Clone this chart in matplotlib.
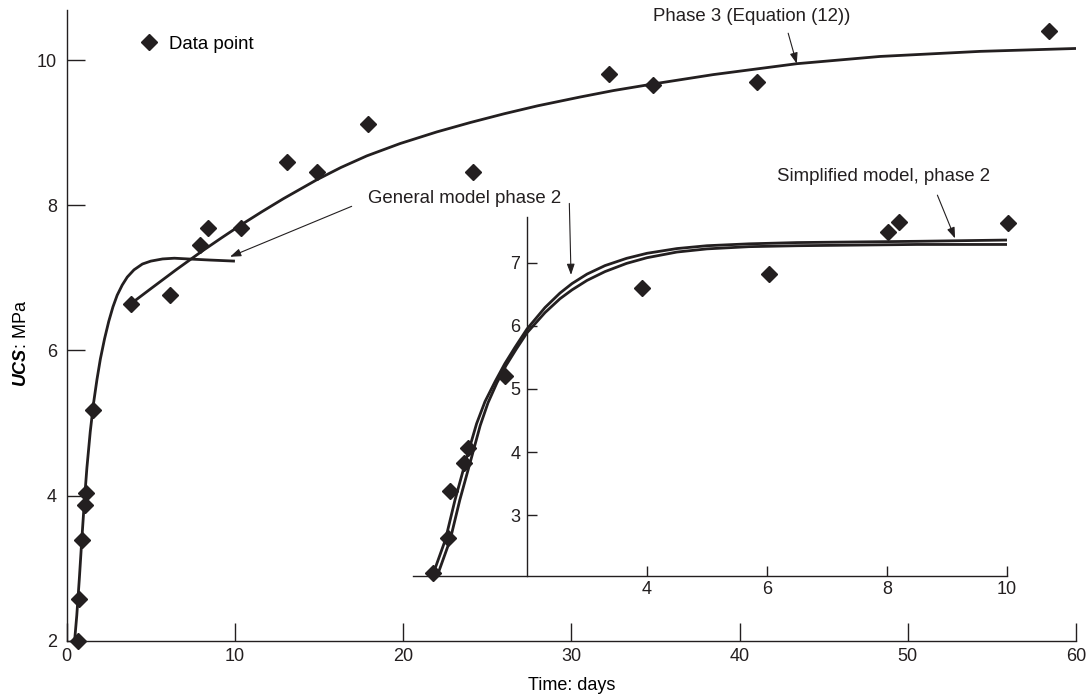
import matplotlib
matplotlib.use("Agg")
import matplotlib.pyplot as plt

plt.rcParams['font.family'] = ['Liberation Sans', 'DejaVu Sans']
plt.rcParams['mathtext.fontset'] = 'custom'
plt.rcParams['mathtext.rm'] = 'Liberation Sans'
plt.rcParams['mathtext.bf'] = 'Liberation Sans:italic:bold'

INK = '#231f20'

# ---------------- data ----------------
# main panel: measured points
main_days = [0.65, 0.73, 0.91, 1.09, 1.13, 1.55, 3.80, 6.14, 7.92, 8.38, 10.34,
             13.08, 14.86, 17.90, 24.14, 32.26, 34.84, 41.02, 58.4]
main_ucs = [1.99, 2.58, 3.39, 3.87, 4.04, 5.18, 6.64, 6.76, 7.45, 7.68, 7.68,
            8.60, 8.46, 9.12, 8.46, 9.81, 9.65, 9.70, 10.40]

# main panel: general model, phase 2
gen_days = [0.47, 0.6, 0.75, 0.9, 1.05, 1.2, 1.4, 1.6, 1.8, 2.0, 2.25, 2.5,
            2.75, 3.0, 3.3, 3.6, 4.0, 4.5, 5.0, 5.7, 6.4, 7.2, 8.5, 10.0]
gen_ucs = [2.0, 2.35, 2.85, 3.4, 3.92, 4.38, 4.88, 5.28, 5.6, 5.88, 6.16, 6.4,
           6.6, 6.76, 6.9, 7.01, 7.11, 7.19, 7.23, 7.26, 7.27, 7.26, 7.245, 7.23]

# main panel: phase 3 (Equation (12))
ph3_days = [3.8, 5.0, 6.5, 8.0, 9.2, 10.3, 11.6, 12.88, 14.86, 16.3, 17.84,
            19.82, 22.0, 24.0, 26.0, 28.0, 30.5, 32.5, 34.84, 38.44, 43.4,
            48.35, 54.3, 60.0]
ph3_ucs = [6.64, 6.85, 7.11, 7.36, 7.55, 7.72, 7.91, 8.09, 8.35, 8.52, 8.68,
           8.85, 9.01, 9.14, 9.26, 9.37, 9.49, 9.58, 9.67, 9.80, 9.95,
           10.05, 10.12, 10.16]

# inset: measured points (first 10 days)
ins_days = [0.44, 0.68, 0.72, 0.95, 1.01, 1.64, 3.91, 6.03, 8.01, 8.20, 10.01]
ins_ucs = [2.08, 2.63, 3.38, 3.83, 4.06, 5.21, 6.60, 6.82, 7.48, 7.64, 7.63]

# inset: general model phase 2
ins_gen_days = [0.44, 0.64, 0.80, 1.0, 1.16, 1.3, 1.47, 1.63, 1.8, 2.0, 2.3,
                2.55, 2.75, 3.0, 3.3, 3.66, 4.0, 4.5, 5.0, 5.7, 6.5, 7.5, 8.5, 10.0]
ins_gen_ucs = [2.08, 2.61, 3.24, 3.93, 4.45, 4.80, 5.12, 5.40, 5.66, 5.95, 6.29,
               6.52, 6.67, 6.82, 6.955, 7.07, 7.15, 7.225, 7.27, 7.30, 7.32, 7.33,
               7.34, 7.36]

# inset: simplified model, phase 2
ins_sim_days = [0.52, 0.72, 0.88, 1.08, 1.22, 1.35, 1.5, 1.65, 1.82, 2.0, 2.3,
                2.55, 2.75, 3.0, 3.3, 3.66, 4.0, 4.5, 5.0, 5.7, 6.5, 7.5, 8.5, 10.0]
ins_sim_ucs = [2.08, 2.61, 3.24, 3.93, 4.42, 4.78, 5.10, 5.37, 5.63, 5.89, 6.21,
               6.43, 6.57, 6.72, 6.86, 6.99, 7.08, 7.17, 7.22, 7.255, 7.27, 7.28,
               7.29, 7.29]

main_xticks = [0, 10, 20, 30, 40, 50, 60]
main_yticks = [2, 4, 6, 8, 10]
ins_xticks = [4, 6, 8, 10]
ins_yticks = [3, 4, 5, 6, 7]

# ---------------- figure ----------------
W, H = 1091, 700
fig = plt.figure(figsize=(W / 100, H / 100), dpi=100)

ax = fig.add_axes([66.7 / W, (H - 640.7) / H, (1076 - 66.7) / W, (640.7 - 10) / H])
ax.set_xlim(0, 60)
ax.set_ylim(2, 10.69)
for s in ('top', 'right'):
    ax.spines[s].set_visible(False)
for s in ('left', 'bottom'):
    ax.spines[s].set_linewidth(1.0)
    ax.spines[s].set_color(INK)
ax.set_xticks(main_xticks)
ax.set_yticks(main_yticks)
ax.tick_params(direction='in', length=13, width=1.0, colors=INK, labelsize=13)
ax.tick_params(axis='y', pad=7)
ax.tick_params(axis='x', pad=5.5)
ax.patch.set_visible(False)

ax.plot(gen_days, gen_ucs, color=INK, lw=2.0, solid_capstyle='butt',
        solid_joinstyle='round', zorder=3)
ax.plot(ph3_days, ph3_ucs, color=INK, lw=2.0, solid_capstyle='butt',
        solid_joinstyle='round', zorder=3)
pts, = ax.plot(main_days, main_ucs, linestyle='none', marker='D', ms=8,
               color=INK, clip_on=False, zorder=4)

ax.set_xlabel('Time: days', fontsize=13)
ax.xaxis.set_label_coords(0.5, -0.058)
ax.set_ylabel(r'$\mathbf{UCS}$: MPa', fontsize=13)
ax.yaxis.set_label_coords(-0.036, 0.472)

ax.legend([pts], ['Data point'], loc='center left', bbox_to_anchor=(0.0723, 0.9456),
          frameon=False, handlelength=1.0, handletextpad=0.6, borderpad=0,
          borderaxespad=0, numpoints=1, fontsize=13.4)

arrow_kw = dict(arrowstyle='-|>,head_length=0.5,head_width=0.18', color=INK,
                lw=0.8, mutation_scale=13, shrinkA=0, shrinkB=0)

ax.text(40.72, 10.595, 'Phase 3 (Equation (12))', fontsize=13.4, color=INK,
        ha='center', va='center')
ax.annotate('', xy=(43.40, 9.95), xytext=(42.89, 10.37), arrowprops=arrow_kw)

ax.text(17.93, 8.094, 'General model phase 2', fontsize=13.4, color=INK,
        ha='left', va='center')
ax.annotate('', xy=(9.71, 7.29), xytext=(16.94, 7.985), arrowprops=arrow_kw)
ax.annotate('', xy=(29.98, 7.04), xytext=(29.88, 8.025), arrowprops=arrow_kw)

ax.text(42.25, 8.39, 'Simplified model, phase 2', fontsize=13.4, color=INK,
        ha='left', va='center')
ax.annotate('', xy=(52.81, 7.543), xytext=(51.76, 8.139), arrowprops=arrow_kw)

# ---------------- inset ----------------
ins = fig.add_axes([413 / W, (H - 575.7) / H, (1007 - 413) / W, (575.7 - 216.7) / H])
ins.set_xlim(0.1, 10)
ins.set_ylim(2.04, 7.73)
ins.patch.set_visible(False)
for s in ('top', 'right'):
    ins.spines[s].set_visible(False)
ins.spines['left'].set_position(('data', 2))
for s in ('left', 'bottom'):
    ins.spines[s].set_linewidth(1.0)
    ins.spines[s].set_color(INK)
ins.set_xticks(ins_xticks)
ins.set_yticks(ins_yticks)
ins.tick_params(direction='in', length=7, width=1.0, colors=INK, labelsize=13)
ins.tick_params(axis='y', pad=4.8)
ins.tick_params(axis='x', pad=4)

ins.plot(ins_gen_days, ins_gen_ucs, color=INK, lw=2.0, solid_joinstyle='round',
         zorder=3)
ins.plot(ins_sim_days, ins_sim_ucs, color=INK, lw=2.0, solid_joinstyle='round',
         zorder=3)
ins.plot(ins_days, ins_ucs, linestyle='none', marker='D', ms=8, color=INK,
         clip_on=False, zorder=4)

fig.savefig('out.png', dpi=100)
